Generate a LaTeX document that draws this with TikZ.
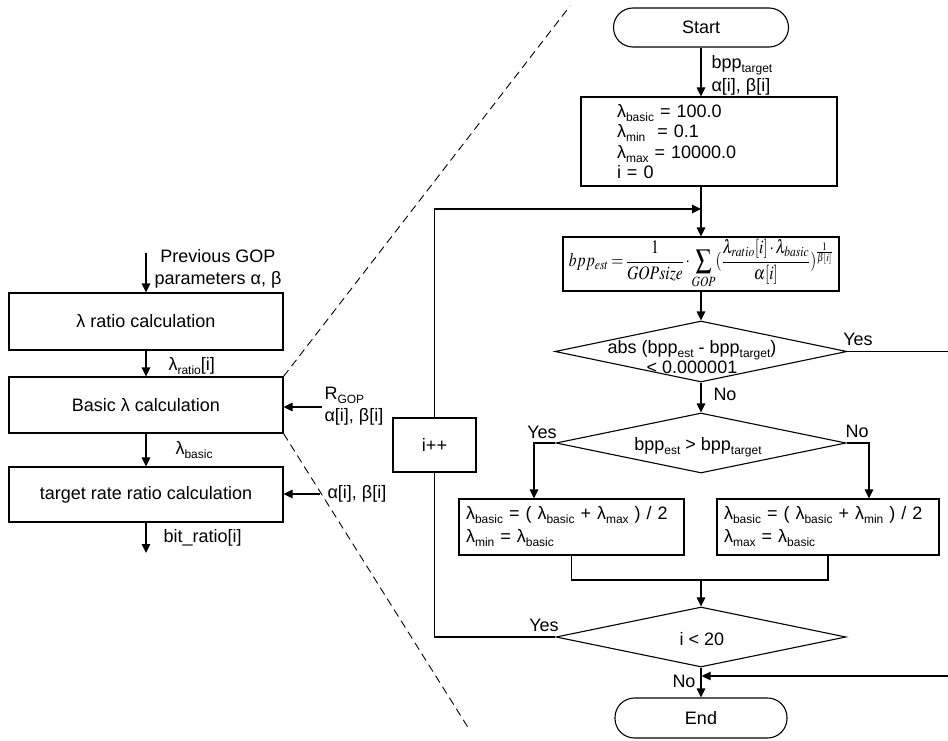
\documentclass[tikz,border=0pt]{standalone}
\usepackage{mathptmx}
\usepackage{fontspec}
\setmainfont{Liberation Sans}
\usepackage{graphicx}
\usetikzlibrary{shapes.geometric,arrows.meta}

% lowered small subscript in text
\newcommand{\sbs}[1]{\raisebox{-0.22em}{\fontsize{12}{12}\selectfont #1}}

\begin{document}
\begin{tikzpicture}[x=1pt,y=-1pt,line width=1.1pt,
  every node/.style={font=\fontsize{18}{21}\selectfont,inner sep=0pt},
  box/.style={draw,rectangle},
  term/.style={draw,rectangle,rounded corners=19.5pt},
  cond/.style={draw,diamond,aspect=1},
  arr/.style={-{Triangle[length=9pt,width=8.5pt]}},
  zoomline/.style={line width=0.9pt,dash pattern=on 8pt off 5pt}]
\useasboundingbox (0,0) rectangle (948,741);

% ---------- overview blocks (left) ----------
\node[box,minimum width=274pt,minimum height=57pt] (b1) at (146,321.5) {λ ratio calculation};
\node[box,minimum width=274pt,minimum height=56pt] (b2) at (146,405) {Basic λ calculation};
\node[box,minimum width=274pt,minimum height=55pt] (b3) at (146,494.5) {target rate ratio calculation};

\coordinate (pin) at (146,253);
\coordinate (bout) at (146,553);
\coordinate (rin) at (322,407);
\coordinate (ain) at (320,494);

\draw[arr] (pin) -- (b1.north);
\draw[arr] (b1.south) -- (b2.north);
\draw[arr] (b2.south) -- (b3.north);
\draw[arr] (b3.south) -- (bout);
\draw[arr] (rin) -- (rin -| b2.east);
\draw[arr] (ain) -- (ain -| b3.east);

\node[align=center,font=\fontsize{18}{22}\selectfont] (prev) at (218,269) {Previous GOP\\parameters α, β};
\node[anchor=west] (lr) at (168,366) {λ\sbs{ratio}[i]};
\node[anchor=west] (lb) at (175,450) {λ\sbs{basic}};
\node[anchor=west] (bit) at (163,538) {bit\_ratio[i]};
\node[anchor=west] (rg) at (324,395) {R\sbs{GOP}};
\node[anchor=west] (ab1) at (324,417) {α[i], β[i]};
\node[anchor=west] (ab2) at (327,494) {α[i], β[i]};

% zoom guides
\coordinate (zt) at (570,6);
\coordinate (zb) at (469,729);
\draw[zoomline] (b2.north east) -- (zt);
\draw[zoomline] (b2.south east) -- (zb);

% ---------- detailed flowchart (right) ----------
\node[term,minimum width=175pt,minimum height=39pt] (start) at (701,27.5) {Start};
\node[box,minimum width=256pt,minimum height=89pt,align=left,text width=184pt,
      font=\fontsize{18}{20.5}\selectfont] (init) at (709,141.5)
  {\mbox{λ\sbs{basic} = 100.0}\\\mbox{λ\sbs{min}\ \ = 0.1}\\\mbox{λ\sbs{max} = 10000.0}\\\mbox{i = 0}};
\node[box,minimum width=276pt,minimum height=54pt] (form) at (701,264)
  {\resizebox*{264pt}{49pt}{\medmuskip=2mu\thickmuskip=3mu$\displaystyle bpp_{est}=\frac{1}{GOPsize}\cdot\sum_{GOP}(\frac{\lambda_{ratio}[i]\cdot\lambda_{basic}}{\alpha[i]})^{\frac{1}{\beta[i]}}$}};
\node[cond,minimum width=292pt,minimum height=61pt] (d1) at (701,351.5) {};
\node[cond,minimum width=290pt,minimum height=60pt] (d2) at (701,443) {};
\node[box,minimum width=225pt,minimum height=56pt,align=left,text width=211pt,
      font=\fontsize{18}{23}\selectfont] (lbox) at (571.5,527)
  {\mbox{λ\sbs{basic} = ( λ\sbs{basic} + λ\sbs{max} ) / 2}\\\mbox{λ\sbs{min} = λ\sbs{basic}}};
\node[box,minimum width=222pt,minimum height=56pt,align=left,text width=208pt,
      font=\fontsize{18}{23}\selectfont] (rbox) at (828,527)
  {\mbox{λ\sbs{basic} = ( λ\sbs{basic} + λ\sbs{min} ) / 2}\\\mbox{λ\sbs{max} = λ\sbs{basic}}};
\node[cond,minimum width=290pt,minimum height=60pt] (d3) at (701,637) {};
\node[term,minimum width=172pt,minimum height=40pt] (end) at (701,718) {End};
\node[box,minimum width=83pt,minimum height=54pt] (ipp) at (434.5,445) {i++};

% condition texts
\node[align=center,font=\fontsize{18}{20}\selectfont] (t1) at (692,357)
  {abs (bpp\sbs{est} - bpp\sbs{target})\\< 0.000001};
\node (t2) at (698,447) {bpp\sbs{est} > bpp\sbs{target}};
\node (t3) at (702,639) {i < 20};

% connector labels
\node[anchor=west] (inA) at (711,65) {bpp\sbs{target}};
\node[anchor=west] (inB) at (711,87) {α[i], β[i]};
\node (y1) at (858,339) {Yes};
\node (n1) at (725,394) {No};
\node (y2) at (542,432) {Yes};
\node (n2) at (857,431) {No};
\node (y3) at (544,625) {Yes};
\node (n3) at (684,681) {No};

\coordinate (join) at (701,209);
\coordinate (mid) at (701,580);
\coordinate (rt) at (948.8,351.5);
\coordinate (rb) at (948.8,676);
\coordinate (back) at (701.6,676);

\draw[arr] (start.south) -- (start.south |- init.north);
\draw (init.south -| start.south) -- (join);
\draw[arr] (join) -- (form.north);
\draw[arr] (form.south) -- (d1.north);
\draw[arr] (d1.south) -- (d2.north);
\draw[arr] (d2.west) -| ([xshift=-37.5pt]lbox.north);
\draw[arr] (d2.east) -| ([xshift=41pt]rbox.north);
\draw (lbox.south) |- (mid) -| (rbox.south);
\draw[arr] (mid) -- (d3.north);
\draw[arr] (d3.south) -- (end.north);
\draw (d3.west) -| (ipp.south);
\draw[arr] (ipp.north) |- (join);
\draw[arr] (d1.east) -- (rt) -- (rb) -- (back);
\end{tikzpicture}
\end{document}
